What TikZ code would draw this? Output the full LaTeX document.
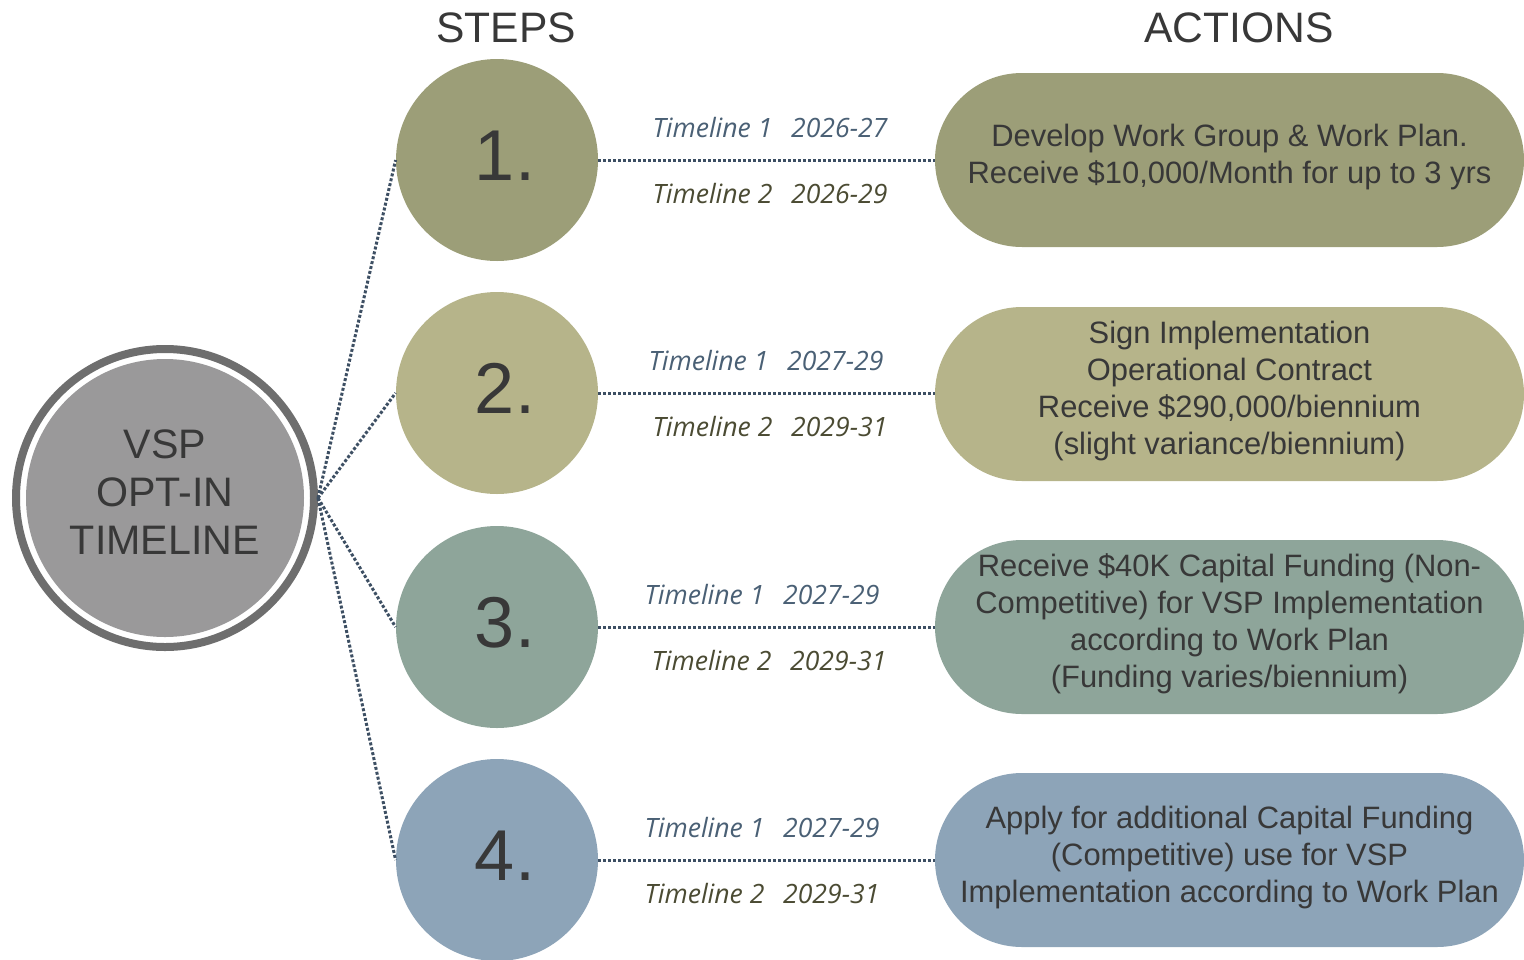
\documentclass[tikz,border=0pt]{standalone}
\usepackage{fontspec}
\setmainfont{Liberation Sans}
\newfontfamily\tlfont{Open Sans}
\usetikzlibrary{positioning}
\usetikzlibrary{shapes.misc}
\definecolor{StepOne}{HTML}{9C9E78}
\definecolor{StepTwo}{HTML}{B6B48A}
\definecolor{StepThree}{HTML}{8EA59A}
\definecolor{StepFour}{HTML}{8DA4B8}
\definecolor{HubGray}{HTML}{9A999A}
\definecolor{RingGray}{HTML}{6E6E6E}
\definecolor{TextGray}{HTML}{383838}
\definecolor{LinkBlue}{HTML}{3D4F63}
\definecolor{TimeBlue}{HTML}{4A6075}
\definecolor{TimeOlive}{HTML}{4B4B33}
\tikzset{
  hub/.style={circle,draw=RingGray,line width=4pt,fill=white,
    minimum size=149pt,inner sep=0pt,align=center,text=TextGray,
    font=\fontsize{20.6}{24}\selectfont,text depth=6pt,
    path picture={\fill[HubGray] (path picture bounding box.center)
      circle [radius=69.5pt];}},
  stepdot/.style={circle,minimum size=101pt,inner sep=0pt,text=TextGray,
    font=\fontsize{36}{42}\selectfont,text depth=0.42em},
  action/.style={rounded rectangle,minimum width=294.5pt,minimum height=87pt,
    inner sep=0pt,align=center,text=TextGray,text depth=6.2pt,
    font=\fontsize{15.45}{18.5}\selectfont},
  link/.style={draw=LinkBlue,line width=1.5pt,dash pattern=on 1.5pt off 1pt},
  tlone/.style={text=TimeBlue,font=\tlfont\itshape\fontsize{13.3}{16}\selectfont},
  tltwo/.style={text=TimeOlive,font=\tlfont\itshape\fontsize{13.3}{16}\selectfont},
  heading/.style={text=TextGray,font=\fontsize{21.3}{24}\selectfont}
}

\begin{document}
\begin{tikzpicture}[x=0.5pt,y=-0.5pt]
  \useasboundingbox (0,0) rectangle (1524,959);

  \node [heading] (stepshead) at (506,28) {STEPS};
  \node [heading] (actionshead) at (1239,28) {ACTIONS};

  \node [hub] (hub) at (165,498) {VSP\\OPT-IN\\TIMELINE};

  \foreach \i/\y/\c in {1/160/StepOne,2/393/StepTwo,3/627/StepThree,4/860/StepFour}{%
    \node [stepdot,fill=\c] (step\i) at (497,\y) {\hspace*{8pt}\i.};
  }

  \node [action,fill=StepOne] (act1) at (1229.5,160)
    {Develop Work Group \& Work Plan.\\Receive \$10,000/Month for up to 3 yrs};
  \node [action,fill=StepTwo] (act2) at (1229.5,394)
    {Sign Implementation\\Operational Contract\\Receive \$290,000/biennium\\(slight variance/biennium)};
  \node [action,fill=StepThree] (act3) at (1229.5,627)
    {Receive \$40K Capital Funding (Non-\\Competitive) for VSP Implementation\\according to Work Plan\\(Funding varies/biennium)};
  \node [action,fill=StepFour] (act4) at (1229.5,860)
    {Apply for additional Capital Funding\\(Competitive) use for VSP\\Implementation according to Work Plan};

  \foreach \i in {1,...,4}{%
    \draw [link] (hub.east) -- (step\i.west);
    \draw [link] (step\i.east) -- (act\i.west |- step\i.east);
  }

  \foreach \i/\y/\xa/\xb/\ta/\tb in {%
    1/160/770/770/2026-27/2026-29,
    2/393/766/770/2027-29/2029-31,
    3/627/762/769/2027-29/2029-31,
    4/860/762/762/2027-29/2029-31}{%
    \node [tlone] (tla\i) at (\xa,\y-32) {Timeline 1\hspace{0.7em}\ta};
    \node [tltwo] (tlb\i) at (\xb,\y+34) {Timeline 2\hspace{0.7em}\tb};
  }
\end{tikzpicture}
\end{document}
